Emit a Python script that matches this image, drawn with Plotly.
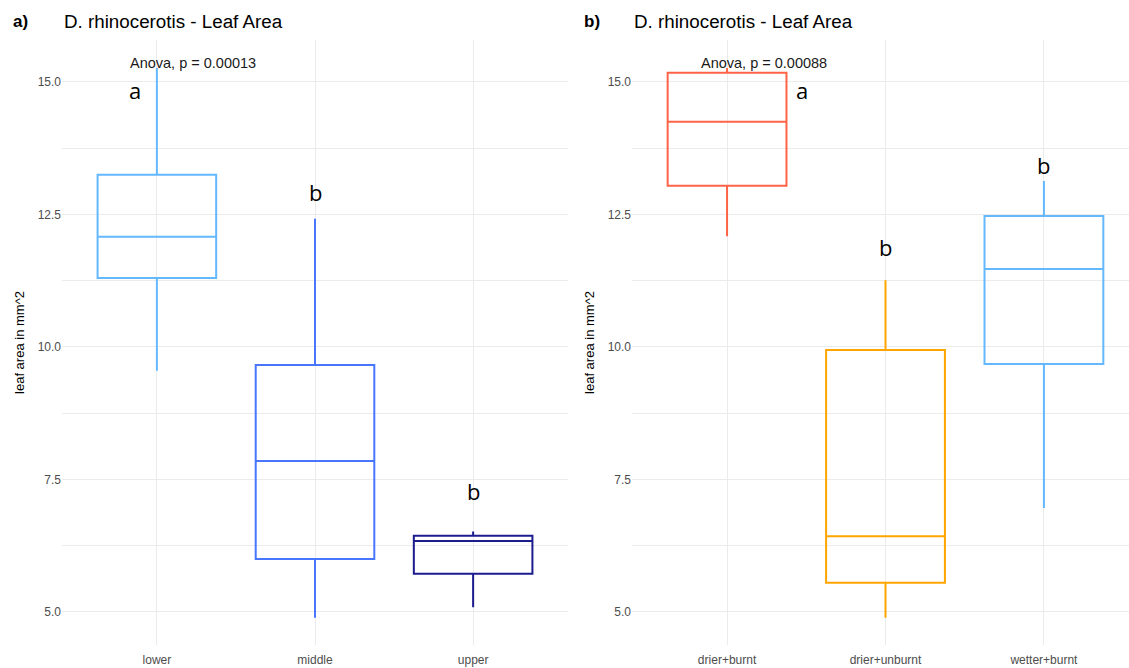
import plotly.graph_objects as go

W, H = 1129, 668

# ---- data ----
elev_cats = ["lower", "middle", "upper"]
elev_upper = [15.26, 12.42, 6.52]
elev_q3 = [13.25, 9.66, 6.44]
elev_median = [12.08, 7.85, 6.34]
elev_q1 = [11.30, 6.00, 5.72]
elev_lower = [9.55, 4.89, 5.09]
elev_colors = ["#63B8FF", "#4876FF", "#1C1C8E"]
elev_letters = ["a", "b", "b"]
elev_letter_x = [-0.14, 1.0, 2.0]
elev_letter_y = [14.85, 12.92, 7.28]

hab_cats = ["drier+burnt", "drier+unburnt", "wetter+burnt"]
hab_upper = [15.26, 11.26, 13.13]
hab_q3 = [15.17, 9.94, 12.47]
hab_median = [14.25, 6.43, 11.47]
hab_q1 = [13.04, 5.55, 9.68]
hab_lower = [12.09, 4.89, 6.96]
hab_colors = ["#FF6347", "#FFA500", "#63B8FF"]
hab_letters = ["a", "b", "b"]
hab_letter_x = [0.47, 1.0, 2.0]
hab_letter_y = [14.85, 11.89, 13.43]

anova_texts = ["Anova, p = 0.00013", "Anova, p = 0.00088"]
panel_tags = ["a)", "b)"]
panel_title = "D. rhinocerotis - Leaf Area"
y_title = "leaf area in mm^2"
y_ticks = [5.0, 7.5, 10.0, 12.5, 15.0]

# ---- layout geometry (pixels) ----
left_dom = [62 / W, 568 / W]
right_dom = [632 / W, 1.0]
y_dom = [(H - 645) / H, (H - 40) / H]
y_range = [4.377, 15.79]

GRID = "#EBEBEB"
TICKC = "#4D4D4D"
FONT = "Liberation Sans, Arial, sans-serif"

fig = go.Figure()

def add_boxes(cats, lo, q1, med, q3, up, colors, xa, ya):
    for i, c in enumerate(cats):
        fig.add_trace(go.Box(
            x=[c], q1=[q1[i]], median=[med[i]], q3=[q3[i]],
            lowerfence=[lo[i]], upperfence=[up[i]],
            line=dict(color=colors[i], width=2),
            fillcolor="rgba(255,255,255,0)",
            width=0.75,
            whiskerwidth=0, boxpoints=False, showlegend=False,
            xaxis=xa, yaxis=ya, hoverinfo="skip",
        ))

add_boxes(elev_cats, elev_lower, elev_q1, elev_median, elev_q3, elev_upper, elev_colors, "x", "y")
add_boxes(hab_cats, hab_lower, hab_q1, hab_median, hab_q3, hab_upper, hab_colors, "x2", "y2")

xcommon = dict(type="category", showgrid=True, gridcolor=GRID, gridwidth=1,
               zeroline=False, showline=False, ticks="", ticklabelstandoff=6,
               tickfont=dict(family=FONT, size=12, color=TICKC), fixedrange=True)
ycommon = dict(range=y_range, domain=y_dom, tickvals=y_ticks, tickformat=".1f",
               showgrid=True, gridcolor=GRID, gridwidth=1, zeroline=False,
               showline=False, ticks="",
               minor=dict(dtick=1.25, tick0=0, showgrid=True, gridcolor=GRID, gridwidth=0.8),
               tickfont=dict(family=FONT, size=12, color=TICKC),
               title=dict(text=y_title, font=dict(family=FONT, size=13, color="#000000"), standoff=10),
               automargin=False)

fig.update_layout(
    width=W, height=H,
    margin=dict(l=0, r=0, t=0, b=0),
    paper_bgcolor="white", plot_bgcolor="white",
    boxmode="overlay", boxgap=0.25, boxgroupgap=0,
    xaxis=dict(domain=left_dom, range=[-0.6, 2.6], categoryorder="array",
               categoryarray=elev_cats, anchor="y", automargin=False, **xcommon),
    yaxis=dict(anchor="x", **ycommon),
    xaxis2=dict(domain=right_dom, range=[-0.6, 2.537], categoryorder="array",
                categoryarray=hab_cats, anchor="y2", automargin=False, **xcommon),
    yaxis2=dict(anchor="x2", **ycommon),
)

ann = []
# panel tags and titles
for tag, tx, ttx in zip(panel_tags, [11, 582], [62, 632]):
    ann.append(dict(text="<b>%s</b>" % tag, x=tx / W, y=1 - 22 / H, xref="paper", yref="paper",
                    xanchor="left", yanchor="middle", showarrow=False,
                    font=dict(family=FONT, size=17, color="#000000")))
    ann.append(dict(text=panel_title, x=ttx / W, y=1 - 22 / H, xref="paper", yref="paper",
                    xanchor="left", yanchor="middle", showarrow=False,
                    font=dict(family=FONT, size=18.8, color="#000000")))
# anova
for txt, xa, ya in zip(anova_texts, ["x", "x2"], ["y", "y2"]):
    ann.append(dict(text=txt, x=-0.18, y=15.36, xref=xa, yref=ya, xanchor="left",
                    yanchor="middle", showarrow=False,
                    font=dict(family=FONT, size=14.5, color="#1A1A1A")))
# letters
for letters, lx, ly, xa, ya in [(elev_letters, elev_letter_x, elev_letter_y, "x", "y"),
                                (hab_letters, hab_letter_x, hab_letter_y, "x2", "y2")]:
    for t, xv, yv in zip(letters, lx, ly):
        ann.append(dict(text=t, x=xv, y=yv, xref=xa, yref=ya, xanchor="center",
                        yanchor="middle", showarrow=False,
                        font=dict(family="Open Sans, sans-serif", size=22, color="#000000")))
fig.update_layout(annotations=ann)

fig.write_html("out.html", config={"displayModeBar": False})
